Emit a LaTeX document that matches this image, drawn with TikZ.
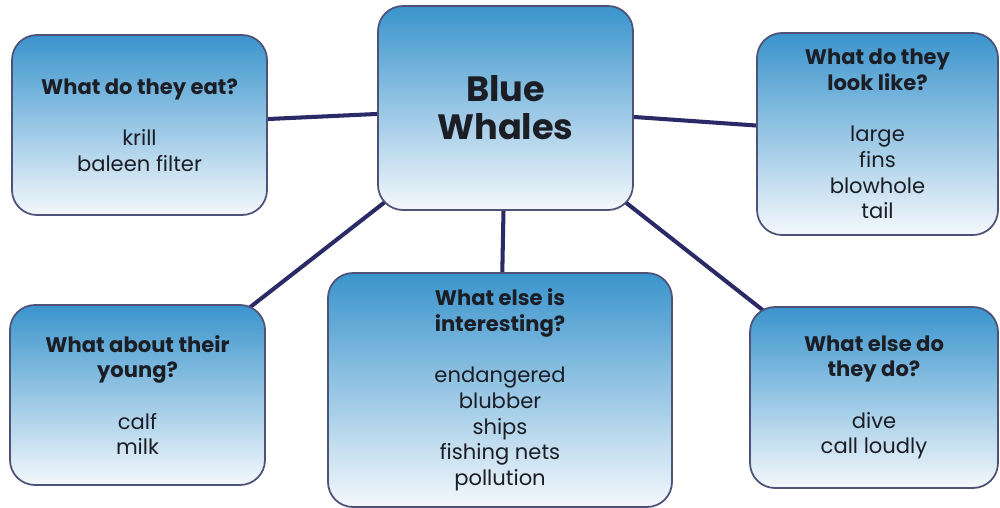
\documentclass[tikz,border=0pt]{standalone}
\usepackage{fontspec}
\setmainfont{Poppins}
\usetikzlibrary{positioning, backgrounds}
\definecolor{boxtop}{RGB}{58,148,204}
\definecolor{boxbottom}{RGB}{244,248,252}
\definecolor{boxline}{RGB}{78,82,120}
\definecolor{linkcol}{RGB}{42,42,102}
\definecolor{textcol}{RGB}{28,30,38}

\begin{document}
\begin{tikzpicture}[
			topic/.style={
				draw=boxline,
				line width=1pt,
				rounded corners=5mm,
				top color=boxtop,
				bottom color=boxbottom,
				align=center,
				text=textcol,
				inner sep=2mm,
				font=\fontsize{12}{14.6}\selectfont
			},
			hub/.style={
				topic,
				font=\fontsize{20}{21.6}\selectfont\bfseries
			},
			link/.style={
				draw=linkcol,
				line width=2.3pt
			}
			]
			\useasboundingbox (0,0) rectangle (20,10.16);
			
			% Boxes
			\node[hub, minimum width=5.1cm, minimum height=4.08cm] (whales) at (10.11,8.0) {Blue\\Whales};
			\node[topic, minimum width=5.1cm, minimum height=3.6cm] (eat) at (2.79,7.66)
				{\textbf{What do they eat?}\\[\baselineskip]krill\\baleen filter};
			\node[topic, minimum width=4.82cm, minimum height=4.04cm] (look) at (17.55,7.48)
				{\textbf{What do they}\\\textbf{look like?}\\[\baselineskip]large\\fins\\blowhole\\tail};
			\node[topic, minimum width=5.1cm, minimum height=3.6cm] (young) at (2.75,2.26)
				{\textbf{What about their}\\\textbf{young?}\\[\baselineskip]calf\\milk};
			\node[topic, minimum width=6.88cm, minimum height=4.68cm] (interesting) at (10.0,2.36)
				{\textbf{What else is}\\\textbf{interesting?}\\[\baselineskip]endangered\\blubber\\ships\\fishing nets\\pollution};
			\node[topic, minimum width=4.96cm, minimum height=3.62cm] (elsedo) at (17.48,2.21)
				{\textbf{What else do}\\\textbf{they do?}\\[\baselineskip]dive\\call loudly};
			
			% Connectors
			\begin{scope}[on background layer]
				\draw[link] (whales.center) -- (eat.center)
					(whales.center) -- (look.center)
					(whales.center) -- (young.center)
					(whales.center) -- (interesting.center)
					(whales.center) -- (elsedo.center);
			\end{scope}
		\end{tikzpicture}
\end{document}
